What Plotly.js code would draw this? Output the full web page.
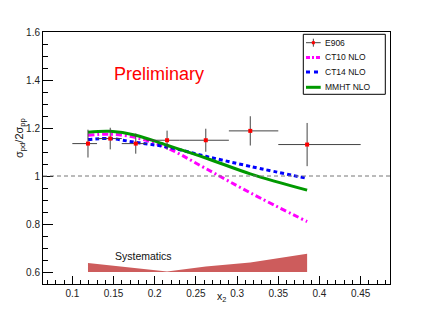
<!DOCTYPE html>
<html><head><meta charset="utf-8">
<script src="https://cdn.plot.ly/plotly-3.0.1.min.js"></script>
<style>html,body{margin:0;padding:0;background:#fff}#chart{width:433px;height:316px}</style>
</head><body><div id="chart"></div>
<script>
// ---- data ----
const e906X = [0.119, 0.146, 0.177, 0.215, 0.262, 0.316, 0.385];
const e906Y = [1.135, 1.156, 1.135, 1.149, 1.149, 1.188, 1.131];
const binLow = [0.100, 0.130, 0.160, 0.190, 0.230, 0.290, 0.350];
const binHigh = [0.130, 0.160, 0.190, 0.230, 0.290, 0.350, 0.450];
const e906YErr = [0.058, 0.045, 0.042, 0.040, 0.048, 0.061, 0.090];

const curveX = [0.119, 0.146, 0.177, 0.215, 0.262, 0.316, 0.385];
const ct10Y = [1.170, 1.174, 1.160, 1.117, 1.031, 0.930, 0.810];
const ct14Y = [1.152, 1.156, 1.140, 1.121, 1.082, 1.040, 0.990];
const mmhtY = [1.182, 1.186, 1.170, 1.128, 1.075, 1.009, 0.941];

const systX = [0.119, 0.146, 0.177, 0.215, 0.262, 0.316, 0.385];
const systTop = [0.637, 0.627, 0.615, 0.602, 0.623, 0.640, 0.676];
const systBase = 0.6;

const legendLabels = ['E906', 'CT10 NLO', 'CT14 NLO', 'MMHT NLO'];

// ---- geometry helpers (pixels -> paper) ----
const W = 433, H = 316, ML = 43, MR = 43, MT = 32, MB = 32;
const PW = W - ML - MR, PH = H - MT - MB;
const px = v => (v - ML) / PW;
const py = v => (H - MB - v) / PH;

const font = 'Liberation Sans, Arial, Helvetica, sans-serif';

const traces = [];
// systematics band
traces.push({
  x: systX.concat(systX.slice().reverse()),
  y: systTop.concat(systX.map(() => systBase)),
  type: 'scatter', mode: 'lines', fill: 'toself',
  fillcolor: '#cd5c5c', line: {width: 0, color: '#cd5c5c'},
  hoverinfo: 'skip', showlegend: false
});
traces.push({x: curveX, y: ct10Y, type: 'scatter', mode: 'lines',
  line: {color: '#ff00ff', width: 3, dash: '6px,3px,2px,3px', shape: 'spline', smoothing: 1}, showlegend: false});
traces.push({x: curveX, y: ct14Y, type: 'scatter', mode: 'lines',
  line: {color: '#0000ff', width: 3, dash: '4px,3px', shape: 'spline', smoothing: 1}, showlegend: false});
traces.push({x: curveX, y: mmhtY, type: 'scatter', mode: 'lines',
  line: {color: '#009900', width: 3, shape: 'spline', smoothing: 1}, showlegend: false});
traces.push({
  x: e906X, y: e906Y, type: 'scatter', mode: 'markers',
  marker: {symbol: 'square', size: 4, color: '#ff0000'},
  error_x: {type: 'data', symmetric: false,
    array: binHigh.map((h, i) => h - e906X[i]),
    arrayminus: binLow.map((l, i) => e906X[i] - l),
    color: '#444', thickness: 1, width: 0},
  error_y: {type: 'data', array: e906YErr, color: '#444', thickness: 1, width: 0},
  showlegend: false
});

// legend (drawn manually, ROOT-style compact box)
const lgX0 = 303.3, lgX1 = 385.3, lgY0 = 34.3, lgY1 = 94.3;
const rowY = [42.7, 57.4, 72.1, 87.3];
const symX0 = 306, symX1 = 320.7, txtX = 323.3;
const shapes = [
  {type: 'line', xref: 'paper', yref: 'y', x0: 0, x1: 1, y0: 1, y1: 1,
   line: {color: '#777', width: 1, dash: '4px,3px'}},
  {type: 'rect', xref: 'paper', yref: 'paper', x0: px(lgX0), x1: px(lgX1), y0: py(lgY1), y1: py(lgY0),
   line: {color: '#000', width: 1}, fillcolor: '#fff'},
  // E906 symbol
  {type: 'line', xref: 'paper', yref: 'paper', x0: px(symX0), x1: px(symX1), y0: py(rowY[0]), y1: py(rowY[0]),
   line: {color: '#444', width: 1}},
  {type: 'line', xref: 'paper', yref: 'paper', x0: px((symX0+symX1)/2), x1: px((symX0+symX1)/2), y0: py(rowY[0]-4), y1: py(rowY[0]+4),
   line: {color: '#444', width: 1}},
  {type: 'rect', xref: 'paper', yref: 'paper', x0: px((symX0+symX1)/2-1.5), x1: px((symX0+symX1)/2+1.5), y0: py(rowY[0]+1.5), y1: py(rowY[0]-1.5),
   line: {width: 0}, fillcolor: '#ff0000'},
  {type: 'line', xref: 'paper', yref: 'paper', x0: px(symX0), x1: px(symX1), y0: py(rowY[1]), y1: py(rowY[1]),
   line: {color: '#ff00ff', width: 3, dash: '4px,2px,2px,2px'}},
  {type: 'line', xref: 'paper', yref: 'paper', x0: px(symX0), x1: px(symX1), y0: py(rowY[2]), y1: py(rowY[2]),
   line: {color: '#0000ff', width: 3, dash: '4px,4px'}},
  {type: 'line', xref: 'paper', yref: 'paper', x0: px(symX0), x1: px(symX1), y0: py(rowY[3]), y1: py(rowY[3]),
   line: {color: '#009900', width: 3}}
];

const annotations = legendLabels.map((t, i) => ({
  text: t, xref: 'paper', yref: 'paper', x: px(txtX), y: py(rowY[i]),
  xanchor: 'left', yanchor: 'middle', showarrow: false,
  font: {family: font, size: 8.5, color: '#111'}
}));
annotations.push({text: 'Preliminary', xref: 'paper', yref: 'paper', x: px(159.3), y: py(73.5),
  xanchor: 'center', yanchor: 'middle', showarrow: false, font: {family: font, size: 18, color: '#ff0000'}});
annotations.push({text: 'Systematics', xref: 'paper', yref: 'paper', x: px(143), y: py(256),
  xanchor: 'center', yanchor: 'middle', showarrow: false, font: {family: font, size: 10.5, color: '#111'}});
annotations.push({text: 'σ<sub>pd</sub>/2σ<sub>pp</sub>', xref: 'paper', yref: 'paper', x: px(20), y: py(138),
  xanchor: 'center', yanchor: 'middle', textangle: -90, showarrow: false, font: {family: font, size: 11, color: '#111'}});
annotations.push({text: 'x<sub>2</sub>', xref: 'paper', yref: 'paper', x: px(222), y: py(297),
  xanchor: 'center', yanchor: 'middle', showarrow: false, font: {family: font, size: 10.5, color: '#111'}});

const layout = {
  width: W, height: H,
  margin: {l: ML, r: MR, t: MT, b: MB, pad: 0},
  paper_bgcolor: '#fff', plot_bgcolor: '#fff',
  showlegend: false,
  font: {family: font, size: 10, color: '#222'},
  xaxis: {
    range: [0.0644, 0.4856], tick0: 0, dtick: 0.05, ticks: 'inside', ticklen: 8, tickwidth: 1, tickcolor: '#000',
    minor: {dtick: 0.01, ticks: 'inside', ticklen: 4, tickcolor: '#000', showgrid: false},
    showgrid: false, zeroline: false, showline: true, linecolor: '#000', linewidth: 1, mirror: true,
    tickfont: {family: font, size: 10, color: '#222'}
  },
  yaxis: {
    range: [0.55, 1.6], tick0: 0, dtick: 0.2, ticks: 'inside', ticklen: 10, tickwidth: 1, tickcolor: '#000',
    minor: {dtick: 0.05, ticks: 'inside', ticklen: 5, tickcolor: '#000', showgrid: false},
    showgrid: false, zeroline: false, showline: true, linecolor: '#000', linewidth: 1, mirror: true,
    tickfont: {family: font, size: 10, color: '#222'}
  },
  shapes: shapes,
  annotations: annotations
};

Plotly.newPlot('chart', traces, layout, {displayModeBar: false, staticPlot: true});
</script>
</body></html>
